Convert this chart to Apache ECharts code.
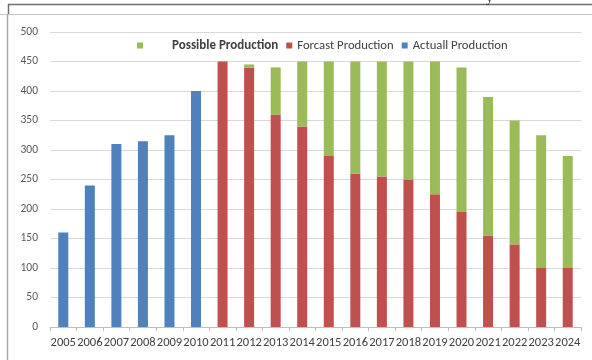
<!DOCTYPE html>
<html>
<head>
<meta charset="utf-8">
<script src="https://cdn.jsdelivr.net/npm/echarts@6/dist/echarts.min.js"></script>
<style>
  html, body { margin: 0; padding: 0; background: #fff; }
  #chart { width: 592px; height: 360px; }
</style>
</head>
<body>
<div id="chart"></div>
<script>
// Years on the category axis
const years = ['2005','2006','2007','2008','2009','2010','2011','2012','2013','2014',
               '2015','2016','2017','2018','2019','2020','2021','2022','2023','2024'];

// Actual production (2005-2010)
const actualProduction = [160, 240, 310, 315, 325, 400, null, null, null, null,
                          null, null, null, null, null, null, null, null, null, null];

// Forecast production (2011-2024)
const forecastProduction = [null, null, null, null, null, null, 450, 440, 360, 340,
                            290, 260, 255, 250, 225, 195, 155, 140, 100, 100];

// Additional possible production stacked on the forecast
const possibleProduction = [null, null, null, null, null, null, 0, 5, 80, 110,
                            160, 190, 195, 200, 225, 245, 235, 210, 225, 190];

const yTicks = { min: 0, max: 500, interval: 50 };

const chart = echarts.init(document.getElementById('chart'), null, { renderer: 'canvas' });

const font = 'Calibri, "Liberation Sans", Arial, sans-serif';

chart.setOption({
  backgroundColor: '#ffffff',
  animation: false,
  graphic: [
    { type: 'line', shape: { x1: 8, y1: 4.5, x2: 592, y2: 4.5 }, style: { stroke: '#6e6e6e', lineWidth: 1.5 } },
    { type: 'line', shape: { x1: 8.5, y1: 4, x2: 8.5, y2: 14 }, style: { stroke: '#6e6e6e', lineWidth: 1.5 } },
    { type: 'line', shape: { x1: 0, y1: 14.5, x2: 592, y2: 14.5 }, style: { stroke: '#c4c4c4', lineWidth: 1 } },
    { type: 'line', shape: { x1: 7.5, y1: 14, x2: 7.5, y2: 360 }, style: { stroke: '#a8a8a8', lineWidth: 1.5 } },
    { type: 'text', left: 486, top: -9, style: { text: 'y', font: '14px "Liberation Serif", serif', fill: '#333' } }
  ],
  legend: {
    data: ['Possible Production', 'Forcast Production', 'Actuall Production'],
    left: 132,
    top: 34,
    icon: 'rect',
    itemWidth: 6,
    itemHeight: 6,
    itemGap: 8,
    formatter: function (name) {
      return name === 'Possible Production' ? '{p|' + name + '}' : name;
    },
    textStyle: {
      color: '#404040', fontSize: 12.7, fontFamily: font,
      rich: { p: { fontWeight: 'bold', color: '#404040', fontSize: 13, fontFamily: font, padding: [0, 0, 0, 24] } }
    }
  },
  grid: { left: 50, right: 11, top: 32, bottom: 33, containLabel: false },
  xAxis: {
    type: 'category',
    data: years,
    boundaryGap: true,
    axisLine: { lineStyle: { color: '#bfbfbf' } },
    axisTick: { show: true, length: 4, lineStyle: { color: '#bfbfbf' } },
    axisLabel: { color: '#404040', fontSize: 12.5, fontFamily: font, margin: 9, interval: 0 }
  },
  yAxis: {
    type: 'value',
    min: yTicks.min,
    max: yTicks.max,
    interval: yTicks.interval,
    axisLine: { show: false },
    axisTick: { show: false },
    axisLabel: { color: '#595959', fontSize: 11.5, fontFamily: font, margin: 12 },
    splitLine: { lineStyle: { color: '#d9d9d9', width: 1 } }
  },
  series: [
    {
      name: 'Actuall Production', type: 'bar', stack: 'prod', barWidth: 10,
      itemStyle: { color: '#4f81bd' }, data: actualProduction
    },
    {
      name: 'Forcast Production', type: 'bar', stack: 'prod', barWidth: 10,
      itemStyle: { color: '#c0504d' }, data: forecastProduction
    },
    {
      name: 'Possible Production', type: 'bar', stack: 'prod', barWidth: 10,
      itemStyle: { color: '#9bbb59' }, data: possibleProduction
    }
  ]
});
</script>
</body>
</html>
